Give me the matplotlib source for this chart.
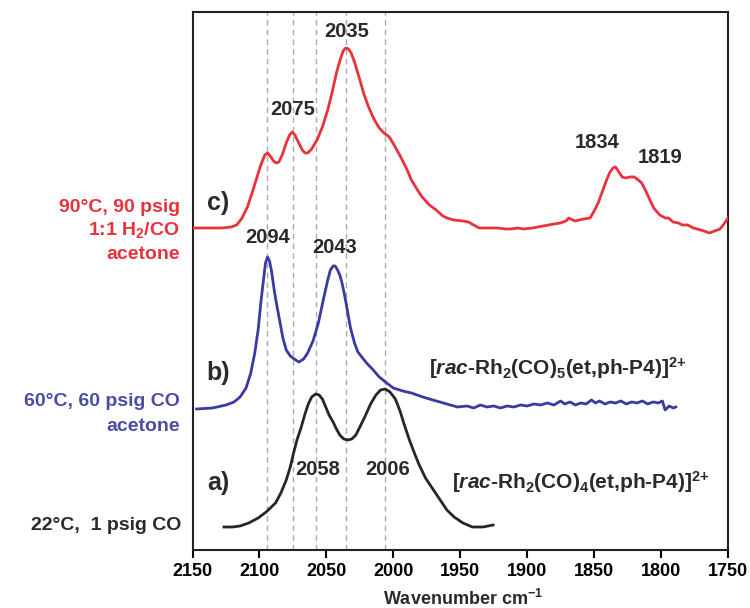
import matplotlib
matplotlib.use("Agg")
import matplotlib.pyplot as plt

plt.rcParams['font.family'] = ['Liberation Sans', 'DejaVu Sans']
plt.rcParams['font.weight'] = 'bold'
plt.rcParams['mathtext.fontset'] = 'custom'
plt.rcParams['mathtext.rm'] = 'Liberation Sans:bold'
plt.rcParams['mathtext.bf'] = 'Liberation Sans:bold'
plt.rcParams['mathtext.it'] = 'Liberation Sans:bold:italic'

# spectrum c) 90 C, 90 psig 1:1 H2/CO, acetone
wn_c = [2150, 2128, 2121, 2117, 2113, 2109, 2105.5, 2102.5, 2099, 2096, 2094, 2092,
        2089.5, 2087.5, 2085.5, 2083, 2080, 2077.5, 2075.5, 2073.5, 2071, 2068, 2066,
        2064, 2061, 2057, 2053, 2049, 2045.5, 2042.5, 2040, 2037.5, 2035.5, 2033.5,
        2031.5, 2029, 2027, 2025, 2022, 2018.5, 2014.5, 2010.5, 2007, 2003, 1999,
        1994.5, 1990, 1986.5, 1982, 1978.5, 1973, 1968, 1963, 1960, 1955, 1948, 1944,
        1940, 1936, 1929, 1922.5, 1916, 1912, 1907, 1903, 1896, 1888, 1880, 1875, 1871,
        1869, 1866, 1864, 1858, 1853, 1850, 1847, 1844, 1841, 1838.5, 1836, 1834, 1832,
        1829, 1826.5, 1823, 1820, 1817, 1814.5, 1811, 1808, 1805.5, 1801, 1797, 1794.5,
        1791, 1787, 1784, 1780, 1776, 1773, 1768, 1764, 1760, 1756, 1753, 1750]
int_c = [0, 0, 1, 3, 10, 21, 35, 48, 63, 73, 75, 72,
         67, 65, 66, 73, 85, 93, 96, 93, 86, 78, 75,
         75, 79, 88, 101, 118, 137, 155, 167, 177, 180, 179,
         175, 166, 157, 148, 134, 121, 109, 100, 95, 91, 82,
         71, 59, 48, 38, 31, 23, 18, 12, 10, 8, 7, 6,
         3, 0, 0, 0, -1, -1, 0, -1, 0, 2, 4, 5, 7,
         10, 8, 7, 9, 10, 17, 25, 36, 47, 55, 60, 61, 57,
         51, 50, 51, 51, 48, 45, 36, 27, 20, 13, 10, 10,
         6, 5, 3, 3, 0, -1, -3, -5, -3, -1, 4, 10]

# spectrum b) 60 C, 60 psig CO, acetone
wn_b = [2147, 2135, 2125, 2119, 2114.5, 2110, 2106.5, 2103.5, 2101, 2099, 2097, 2095.5,
        2094, 2092.5, 2091, 2089, 2087.5, 2085, 2082.5, 2080, 2077, 2073, 2070.5, 2067,
        2064, 2060, 2056, 2052.5, 2049, 2047, 2045, 2043.5, 2042, 2040, 2038.5, 2036,
        2034, 2032, 2029, 2026.5, 2023, 2020, 2015, 2010.5, 2005, 2000, 1993, 1986.5,
        1978, 1970.5, 1960, 1952, 1945, 1940, 1935, 1930, 1925, 1920, 1915, 1910, 1905,
        1900, 1895, 1890, 1885, 1880, 1875, 1872, 1868, 1864, 1860, 1856, 1852, 1849,
        1846, 1842, 1838, 1834, 1830, 1826, 1822, 1818, 1814, 1810, 1806, 1802, 1799,
        1797, 1794, 1791, 1789]
int_b = [-1, 0, 3, 6, 11, 20, 35, 55, 78, 105, 128, 145,
         151, 147, 137, 118, 106, 88, 70, 58, 52, 48, 46, 49,
         55, 67, 85, 107, 128, 138, 142, 142, 139, 133, 126, 110,
         95, 80, 65, 56, 50, 45, 38, 31, 25, 20, 17, 15,
         11, 8, 4, 1, 2, 0, 3, 1, 2, 0, 2, 1, 3,
         2, 4, 3, 5, 3, 7, 4, 6, 3, 5, 4, 8, 5,
         7, 4, 6, 5, 7, 4, 6, 5, 7, 4, 6, 5, 7,
         -2, 2, 0, 1]

# spectrum a) 22 C, 1 psig CO
wn_a = [2126.5, 2120, 2114.5, 2108, 2101, 2095, 2088, 2084, 2080, 2077, 2074.5, 2072,
        2069, 2066, 2063.5, 2061, 2058, 2055.5, 2053, 2050.5, 2048, 2045, 2042.5, 2040,
        2037, 2034, 2031, 2028, 2025, 2021, 2017, 2013, 2009.5, 2006, 2002.5, 1998.5,
        1995, 1992, 1988, 1984, 1981, 1976, 1970, 1965, 1960, 1954.6, 1948, 1941, 1933,
        1925.5]
int_a = [-1, -1, 0, 3, 8, 14, 23, 33, 46, 59, 73, 86,
         98, 112, 122, 129, 132, 131, 127, 119, 111, 104, 97, 91,
         87, 86, 87, 91, 99, 110, 122, 131, 136, 137, 134, 127,
         115, 102, 86, 72, 62, 48, 36, 26, 16, 9, 3, -1, -1,
         1]

peak_lines = [2094, 2075, 2058, 2035, 2006]

red = '#e8323c'
blue = '#3a3aa2'
blue_txt = '#4b4ba8'
black = '#262626'

fig = plt.figure(figsize=(7.5, 6.08), dpi=100)
ax = fig.add_axes([0.2567, 0.0954, 0.714, 0.8849])

for w in peak_lines:
    ax.axvline(w, color='#aaaaaa', lw=1, ls=(0, (4, 3)), zorder=1)

ax.plot(wn_c, [v + 380 for v in int_c], color=red, lw=2, zorder=3)
ax.plot(wn_b, [v + 200 for v in int_b], color=blue, lw=2, zorder=3)
ax.plot(wn_a, [v + 82 for v in int_a], color=black, lw=2, zorder=3)

ax.set_xlim(2150, 1750)
ax.set_ylim(58, 596)
ax.set_yticks([])
ax.set_xticks(range(2150, 1749, -50))
ax.tick_params(axis='x', direction='out', length=6, width=1.5, labelsize=13)
for s in ax.spines.values():
    s.set_linewidth(1.5)
    s.set_color('#222222')

fs = 14.5
lab = dict(ha='center', va='center', fontsize=fs, fontweight='bold', color='#2a2a2a')
ax.text(2035, 576, '2035', **lab)
ax.text(2075, 498, '2075', **lab)
ax.text(2094, 370, '2094', **lab)
ax.text(2044, 360, '2043', **lab)
ax.text(1848, 465, '1834', **lab)
ax.text(1801, 450, '1819', **lab)
ax.text(2056.5, 138, '2058', **lab)
ax.text(2004.5, 138, '2006', **lab)

ax.text(2131, 405, 'c)', ha='center', va='center', fontsize=18, fontweight='bold', color='#2a2a2a')
ax.text(2131, 235, 'b)', ha='center', va='center', fontsize=18, fontweight='bold', color='#2a2a2a')
ax.text(2131, 125, 'a)', ha='center', va='center', fontsize=18, fontweight='bold', color='#2a2a2a')

ax.text(1973, 240, r'[$\it{rac}$-Rh$_2$(CO)$_5$(et,ph-P4)]$^{2{+}}$', ha='left', va='center',
        fontsize=15, color='#2a2a2a')
ax.text(1956, 126, r'[$\it{rac}$-Rh$_2$(CO)$_4$(et,ph-P4)]$^{2{+}}$', ha='left', va='center',
        fontsize=15, color='#2a2a2a')

side = dict(ha='right', va='center', fontsize=14, fontweight='bold')
fig.text(0.24, 0.6595, '90°C, 90 psig', color=red, **side)
fig.text(0.24, 0.6217, '1:1 H$_2$/CO', color=red, **side)
fig.text(0.24, 0.5806, 'acetone', color=red, **side)
fig.text(0.24, 0.3393, '60°C, 60 psig CO', color=blue_txt, **side)
fig.text(0.24, 0.2982, 'acetone', color=blue_txt, **side)
fig.text(0.242, 0.1365, '22°C,  1 psig CO', color='#2a2a2a', **side)

fig.text(0.618, 0.015, 'Wavenumber cm$^{-1}$', ha='center', va='center', fontsize=13,
         fontweight='bold', color='#2a2a2a')

fig.savefig('out.png', dpi=100)
